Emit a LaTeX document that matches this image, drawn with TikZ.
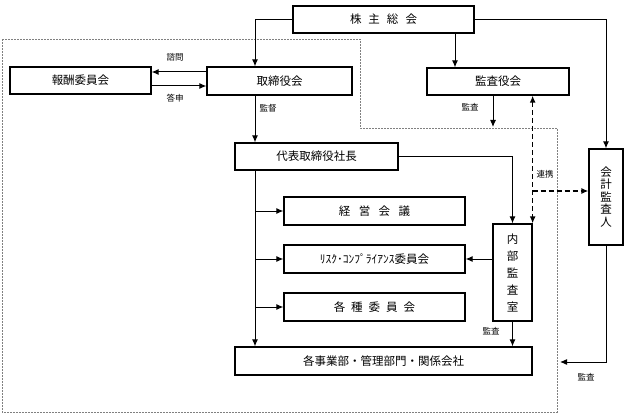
\documentclass[tikz,border=0pt]{standalone}
\usepackage{fontspec}
\setmainfont{Noto Sans CJK JP}
\usetikzlibrary{positioning,arrows.meta}
\tikzset{block/.style={draw,line width=1.3pt,minimum height=27pt,inner sep=0pt,align=center,font=\fontsize{11.5}{14}\selectfont}}
\tikzset{lbl/.style={inner sep=0pt,font=\fontsize{8.5}{10}\selectfont}}
\tikzset{link/.style={->,line width=1pt}}
\tikzset{coop/.style={line width=1.3pt,dash pattern=on 5pt off 3pt}}
\tikzset{>={Latex[length=7pt,width=6pt]}}
\newcommand{\kgap}[1]{\hspace{#1}}

\begin{document}
\begin{tikzpicture}[x=1pt,y=-1pt]
    \useasboundingbox (0,0) rectangle (630,420);
    \draw [gray,line width=0.8pt,dash pattern=on 2pt off 1pt] (2,39) -- (360,39) -- (360,128) -- (557,128) -- (557,412) -- (2,412) -- cycle;

    \node (GM) [block,minimum width=181pt] at (383.5,19.5) {株\kgap{7pt}主\kgap{7pt}総\kgap{7pt}会};
    \node (BD) [block,minimum width=145pt,minimum height=28pt] at (279.5,81) {取締役会};
    \node (RC) [block,minimum width=141pt] at (80.5,80.5) {報酬委員会};
    \node (AB) [block,minimum width=142pt] at (498,81.5) {監査役会};
    \node (CEO) [block,minimum width=163pt] at (316.5,156.5) {代表取締役社長};
    \node (MC) [block,minimum width=181pt,minimum height=28pt] at (374.5,211) {経\kgap{8.5pt}営\kgap{8.5pt}会\kgap{8.5pt}議};
    \node (RCC) [block,minimum width=181pt,minimum height=28pt] at (374.5,259) {ﾘｽｸ･ｺﾝﾌﾟﾗｲｱﾝｽ委員会};
    \node (CMT) [block,minimum width=181pt,minimum height=28pt] at (374.5,307) {各\kgap{6pt}種\kgap{6pt}委\kgap{6pt}員\kgap{6pt}会};
    \node (OPS) [block,minimum width=297pt,minimum height=28pt] at (383.5,361) {各事業部・管理部門・関係会社};
    \node (IA) [block,minimum width=39pt,minimum height=97pt,font=\fontsize{11.5}{17}\selectfont] at (512.5,272.5) {内\\部\\監\\査\\室};
    \node (EA) [block,minimum width=34pt,minimum height=96pt,font=\fontsize{11.5}{12.5}\selectfont] at (606,197) {会\\計\\監\\査\\人};

    \coordinate (ABX) at (493,127);
    \coordinate (EAX) at (560,362);

    \draw [link] (GM.west) -| ([xshift=-24.5pt]BD.north);
    \draw [link] (GM.east) -| (EA.north);
    \draw [link] ([xshift=-43pt]AB.north |- GM.south) -- ([xshift=-43pt]AB.north);

    \draw [link] ([yshift=9pt]BD.west) -- ([yshift=9pt]BD.west -| RC.east);
    \draw [link] ([yshift=-5.5pt]RC.east) -- ([yshift=-5.5pt]RC.east -| BD.west);
    \node (Q) [lbl] at (175,57) {諮問};
    \node (A) [lbl] at (175,98) {答申};

    \draw [link] ([xshift=-24.5pt]BD.south) -- ([xshift=-24.5pt]BD.south |- CEO.north);
    \node (S) [lbl] at (268,108) {監督};

    \draw [link] ([xshift=-61.5pt]CEO.south) -- ([xshift=-61.5pt]CEO.south |- OPS.north);
    \draw [link] ([xshift=-61.5pt]CEO.south |- MC.west) -- (MC.west);
    \draw [link] ([xshift=-61.5pt]CEO.south |- RCC.west) -- (RCC.west);
    \draw [link] ([xshift=-61.5pt]CEO.south |- CMT.west) -- (CMT.west);

    \draw [link] (CEO.east) -| (IA.north);
    \draw [link] (IA.west |- RCC.east) -- (RCC.east);
    \draw [link] (IA.south) -- (IA.south |- OPS.north);
    \node (AU1) [lbl] at (491,331) {監査};

    \draw [link] (ABX |- AB.south) -- (ABX);
    \node (AU2) [lbl] at (470,107) {監査};

    \draw [link] (EA.south) |- (EAX);
    \node (AU3) [lbl] at (586,377) {監査};

    \draw [coop,<->] (IA.north east |- AB.south) -- (IA.north east);
    \draw [coop,->] ([yshift=6pt]EA.west -| IA.north east) -- ([yshift=6pt]EA.west);
    \node (CO) [lbl] at (545,174) {連携};
\end{tikzpicture}
\end{document}
